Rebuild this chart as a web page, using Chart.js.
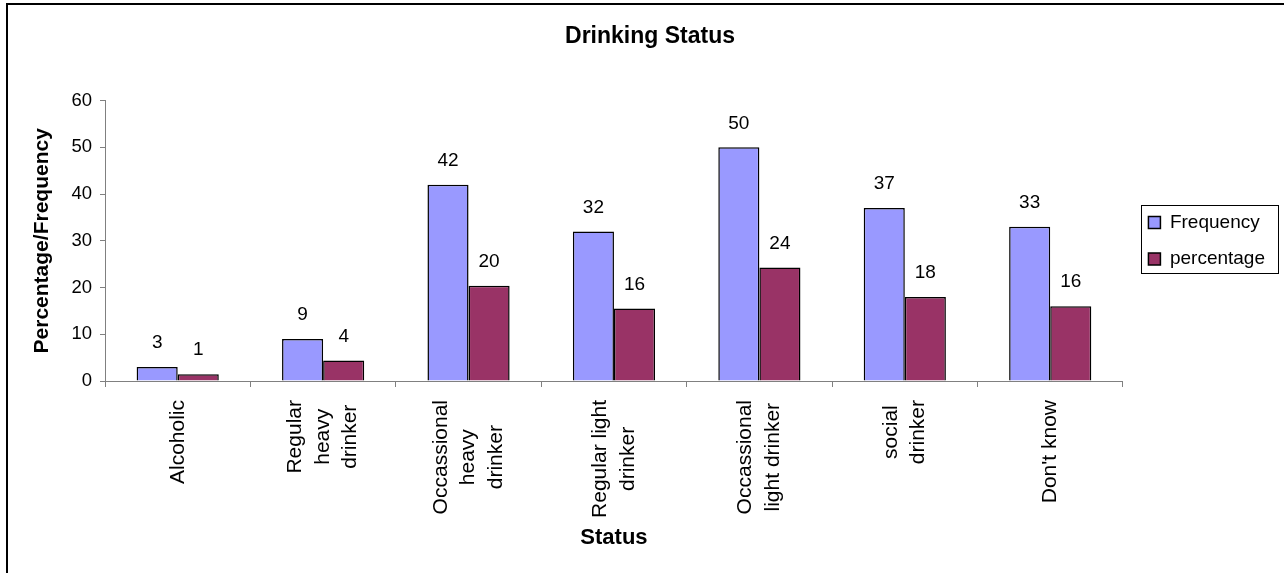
<!DOCTYPE html>
<html>
<head>
<meta charset="utf-8">
<title>Drinking Status</title>
<script src="https://cdn.jsdelivr.net/npm/chart.js@4/dist/chart.umd.min.js"></script>
<style>
    html, body { margin: 0; padding: 0; background: #fff; }
    #frame {
        position: absolute;
        left: 6px;
        top: 3px;
        width: 1276px;
        height: 568px;
        border-left: 2px solid #000;
        border-top: 2px solid #000;
    }
    #frame canvas { display: block; }
</style>
</head>
<body>
<div id="frame"><canvas id="drinkChart" width="1276" height="568"></canvas></div>
<script>
const statusLabels = [
    ['Alcoholic'],
    ['Regular', 'heavy', 'drinker'],
    ['Occassional', 'heavy', 'drinker'],
    ['Regular light', 'drinker'],
    ['Occassional', 'light drinker'],
    ['social', 'drinker'],
    ["Don't know"]
];
const frequencyValues = [3, 9, 42, 32, 50, 37, 33];
const percentageValues = [1.46, 4.37, 20.39, 15.53, 24.27, 17.96, 16.02];
const yTicks = [0, 10, 20, 30, 40, 50, 60];

const FONT = "'Liberation Sans', Arial, sans-serif";
const AXIS_GREY = '#808080';

// values printed above every bar, rounded like the source table
const barValueLabels = {
    id: 'barValueLabels',
    afterDatasetsDraw(chart) {
        const ctx = chart.ctx;
        ctx.save();
        ctx.font = '19px ' + FONT;
        ctx.fillStyle = '#000';
        ctx.textAlign = 'center';
        ctx.textBaseline = 'middle';
        chart.data.datasets.forEach((ds, di) => {
            const meta = chart.getDatasetMeta(di);
            meta.data.forEach((bar, i) => {
                ctx.fillText(String(Math.round(ds.data[i])), bar.x, bar.y - 24);
            });
        });
        ctx.restore();
    }
};

// category names turned upright, each line centred on the others
const categoryNames = {
    id: 'categoryNames',
    afterDraw(chart) {
        const xs = chart.scales.x;
        const ctx = chart.ctx;
        const lineStep = 27.5;
        ctx.save();
        ctx.font = '21px ' + FONT;
        ctx.fillStyle = '#000';
        ctx.textAlign = 'center';
        ctx.textBaseline = 'middle';
        statusLabels.forEach((lines, i) => {
            const cx = xs.getPixelForTick(i);
            const widest = Math.max(...lines.map(l => ctx.measureText(l).width));
            const cy = xs.top + 19 + widest / 2;
            lines.forEach((line, j) => {
                const x = cx + (j - (lines.length - 1) / 2) * lineStep;
                ctx.save();
                ctx.translate(x, cy);
                ctx.rotate(-Math.PI / 2);
                ctx.fillText(line, 0, 0);
                ctx.restore();
            });
        });
        ctx.restore();
    }
};

// thin frame round the legend
const legendFrame = {
    id: 'legendFrame',
    afterDraw(chart) {
        const boxes = chart.legend && chart.legend.legendHitBoxes;
        if (!boxes || !boxes.length) return;
        const left = Math.min(...boxes.map(b => b.left)) - 7;
        const top = Math.min(...boxes.map(b => b.top)) - 8;
        const right = Math.max(...boxes.map(b => b.left + b.width)) + 13;
        const bottom = Math.max(...boxes.map(b => b.top + b.height)) + 4;
        const ctx = chart.ctx;
        ctx.save();
        ctx.strokeStyle = '#000';
        ctx.lineWidth = 1;
        ctx.strokeRect(Math.round(left) + 0.5, Math.round(top) + 0.5, Math.round(right - left), Math.round(bottom - top));
        ctx.restore();
    }
};

new Chart(document.getElementById('drinkChart').getContext('2d'), {
    type: 'bar',
    data: {
        labels: statusLabels,
        datasets: [
            {
                label: 'Frequency',
                data: frequencyValues,
                backgroundColor: '#9999FF',
                borderColor: '#000',
                borderWidth: 1.5,
                categoryPercentage: 0.565,
                barPercentage: 1.0
            },
            {
                label: 'percentage',
                data: percentageValues,
                backgroundColor: '#993366',
                borderColor: '#000',
                borderWidth: 1.5,
                categoryPercentage: 0.565,
                barPercentage: 1.0
            }
        ]
    },
    options: {
        responsive: false,
        animation: false,
        layout: { padding: { left: 17, top: 5, right: 9, bottom: 18 } },
        scales: {
            x: {
                grid: {
                    display: true,
                    drawOnChartArea: false,
                    drawTicks: true,
                    tickLength: 6,
                    color: AXIS_GREY,
                    offset: true
                },
                border: { display: true, color: AXIS_GREY, width: 1 },
                ticks: { display: false, autoSkip: false },
                title: {
                    display: true,
                    text: 'Status',
                    color: '#000',
                    font: { family: FONT, size: 22, weight: 'bold', lineHeight: 1.2 },
                    padding: { top: 4, bottom: 4 }
                },
                afterFit(scale) { scale.height = 174; }
            },
            y: {
                min: 0,
                max: 60,
                afterBuildTicks(scale) { scale.ticks = yTicks.map(v => ({ value: v })); },
                grid: {
                    display: true,
                    drawOnChartArea: false,
                    drawTicks: true,
                    tickLength: 5,
                    color: AXIS_GREY
                },
                border: { display: true, color: AXIS_GREY, width: 1 },
                ticks: {
                    padding: 8,
                    color: '#000',
                    font: { family: FONT, size: 18.5 }
                },
                title: {
                    display: true,
                    text: 'Percentage/Frequency',
                    color: '#000',
                    font: { family: FONT, size: 21, weight: 'bold', lineHeight: 1.2 },
                    padding: { top: 5, bottom: 4 }
                },
                afterFit(scale) { scale.width = 80; }
            },
            // empty strip keeping the legend clear of the plot
            gap: {
                type: 'linear',
                position: 'right',
                display: true,
                grid: { display: false },
                border: { display: false },
                ticks: { display: false },
                afterFit(scale) { scale.width = 8; }
            }
        },
        plugins: {
            title: {
                display: true,
                text: 'Drinking Status',
                color: '#000',
                font: { family: FONT, size: 23, weight: 'bold', lineHeight: 1.2 },
                padding: { top: 13, bottom: 50 }
            },
            legend: {
                position: 'right',
                align: 'center',
                fullSize: false,
                labels: {
                    boxWidth: 12,
                    boxHeight: 12,
                    padding: 17.5,
                    color: '#000',
                    font: { family: FONT, size: 19 }
                }
            },
            tooltip: { enabled: false }
        }
    },
    plugins: [barValueLabels, categoryNames, legendFrame]
});
</script>
</body>
</html>
